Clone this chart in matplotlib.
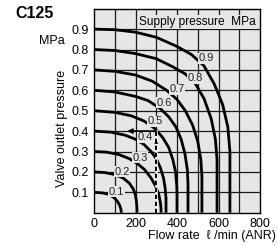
import matplotlib
matplotlib.use("Agg")
import matplotlib.pyplot as plt

plt.rcParams['font.family'] = ['Liberation Sans', 'DejaVu Sans']

# set pressure of each curve (MPa) and the points
set_pressures = [0.1, 0.2, 0.3, 0.4, 0.5, 0.6, 0.7, 0.8, 0.9]
curve_flow = {
    0.1: [0, 40, 70, 95, 112, 123, 129, 132],
    0.2: [0, 50, 100, 140, 170, 190, 200, 205, 207, 207],
    0.3: [0, 60, 120, 170, 210, 245, 275, 297, 312, 320, 323, 323],
    0.4: [0, 80, 150, 200, 240, 275, 300, 320, 335, 343, 347, 347],
    0.5: [0, 100, 180, 240, 290, 330, 360, 380, 393, 399, 400, 400],
    0.6: [0, 100, 200, 260, 320, 360, 395, 420, 438, 450, 453, 453],
    0.7: [0, 100, 200, 280, 350, 400, 440, 475, 500, 515, 520, 520],
    0.8: [0, 100, 200, 300, 380, 440, 490, 530, 565, 585, 593, 593],
    0.9: [0, 100, 200, 300, 400, 470, 530, 580, 620, 645, 655, 655],
}
curve_press = {
    0.1: [0.10, 0.097, 0.09, 0.075, 0.057, 0.038, 0.02, 0],
    0.2: [0.20, 0.197, 0.187, 0.17, 0.145, 0.115, 0.085, 0.05, 0.02, 0],
    0.3: [0.30, 0.297, 0.285, 0.265, 0.24, 0.21, 0.17, 0.13, 0.09, 0.05, 0.02, 0],
    0.4: [0.40, 0.395, 0.38, 0.36, 0.335, 0.30, 0.265, 0.22, 0.17, 0.12, 0.07, 0],
    0.5: [0.50, 0.492, 0.475, 0.45, 0.415, 0.37, 0.32, 0.26, 0.20, 0.13, 0.08, 0],
    0.6: [0.60, 0.592, 0.57, 0.55, 0.51, 0.47, 0.42, 0.36, 0.29, 0.21, 0.14, 0],
    0.7: [0.70, 0.693, 0.675, 0.645, 0.60, 0.555, 0.50, 0.43, 0.35, 0.26, 0.18, 0],
    0.8: [0.80, 0.795, 0.78, 0.755, 0.715, 0.68, 0.63, 0.56, 0.46, 0.36, 0.26, 0],
    0.9: [0.90, 0.897, 0.885, 0.86, 0.815, 0.775, 0.72, 0.63, 0.53, 0.42, 0.30, 0],
}
# where the curve labels sit
label_flow = [109, 135, 222, 246, 297, 340, 400, 487, 542]
label_press = [0.103, 0.20, 0.27, 0.369, 0.449, 0.54, 0.606, 0.66, 0.758]

# reading example: 300 l/min at 0.5 MPa supply gives 0.4 MPa
example_flow = 300
example_press = 0.4

x_ticks = [0, 200, 400, 600, 800]
y_ticks = [0.1, 0.2, 0.3, 0.4, 0.5, 0.6, 0.7, 0.8, 0.9]

bg = '#e6e6e6'

fig = plt.figure(figsize=(2.78, 2.46), dpi=100)
ax = fig.add_axes([94 / 278, 1 - 212.7 / 246, 166 / 278, 204 / 246])
ax.set_facecolor(bg)
ax.set_xlim(0, 800)
ax.set_ylim(0, 1.0)

# grid every 100 l/min and 0.1 MPa
for gx in range(100, 800, 100):
    ax.axvline(gx, color='#1a1a1a', lw=0.9, zorder=1)
for gy in y_ticks:
    ax.axhline(gy, color='#1a1a1a', lw=0.9, zorder=1)

for p in set_pressures:
    ax.plot(curve_flow[p], curve_press[p], color='black', lw=2.0,
            solid_capstyle='butt', zorder=3)

for p, lx, ly in zip(set_pressures, label_flow, label_press):
    ax.text(lx, ly, f"{p:.1f}", fontsize=8, ha='center', va='center',
            color='#222222', zorder=4,
            bbox=dict(boxstyle='square,pad=0.05', fc=bg, ec='none'))

# example arrows
ax.plot([example_flow, example_flow], [0, example_press], color='white',
        lw=1.8, zorder=5)
ax.plot([example_flow, example_flow], [0, example_press], color='black',
        lw=1.4, ls=(0, (2.2, 1.4)), zorder=6)
ax.annotate('', xy=(example_flow, 0.37), xytext=(example_flow, 0.30),
            arrowprops=dict(arrowstyle='-|>', color='black', lw=0.01,
                            mutation_scale=7), zorder=7)
ax.annotate('', xy=(160, example_press), xytext=(example_flow, example_press),
            arrowprops=dict(arrowstyle='-|>', color='black', lw=1.2,
                            mutation_scale=7, shrinkA=0, shrinkB=0), zorder=7)

ax.text(0.975, 0.935, "Supply pressure  MPa", transform=ax.transAxes,
        fontsize=8.6, ha='right', va='center', zorder=8,
        bbox=dict(boxstyle='square,pad=0.1', fc=bg, ec='none'))

ax.set_xticks(x_ticks)
ax.set_xticklabels([str(v) for v in x_ticks], fontsize=9)
ax.set_yticks(y_ticks)
ax.set_yticklabels([f"{v:.1f}" for v in y_ticks], fontsize=9)
ax.tick_params(length=0, pad=3.5)
for s in ax.spines.values():
    s.set_linewidth(1.0)
    s.set_color('black')

fig.text(52 / 278, 1 - 41 / 246, "MPa", fontsize=9, ha='center', va='center')
fig.text(35 / 278, 1 - 13 / 246, "C125", fontsize=11.5, fontweight='bold',
         ha='center', va='center')
fig.text(62 / 278, 1 - 128 / 246, "Valve outlet pressure", fontsize=9,
         rotation=90, ha='center', va='center')
fig.text(276 / 278, 1 - 236 / 246, "Flow rate  ℓ /min (ANR)", fontsize=9,
         ha='right', va='center')

fig.savefig("out.png", dpi=100)
